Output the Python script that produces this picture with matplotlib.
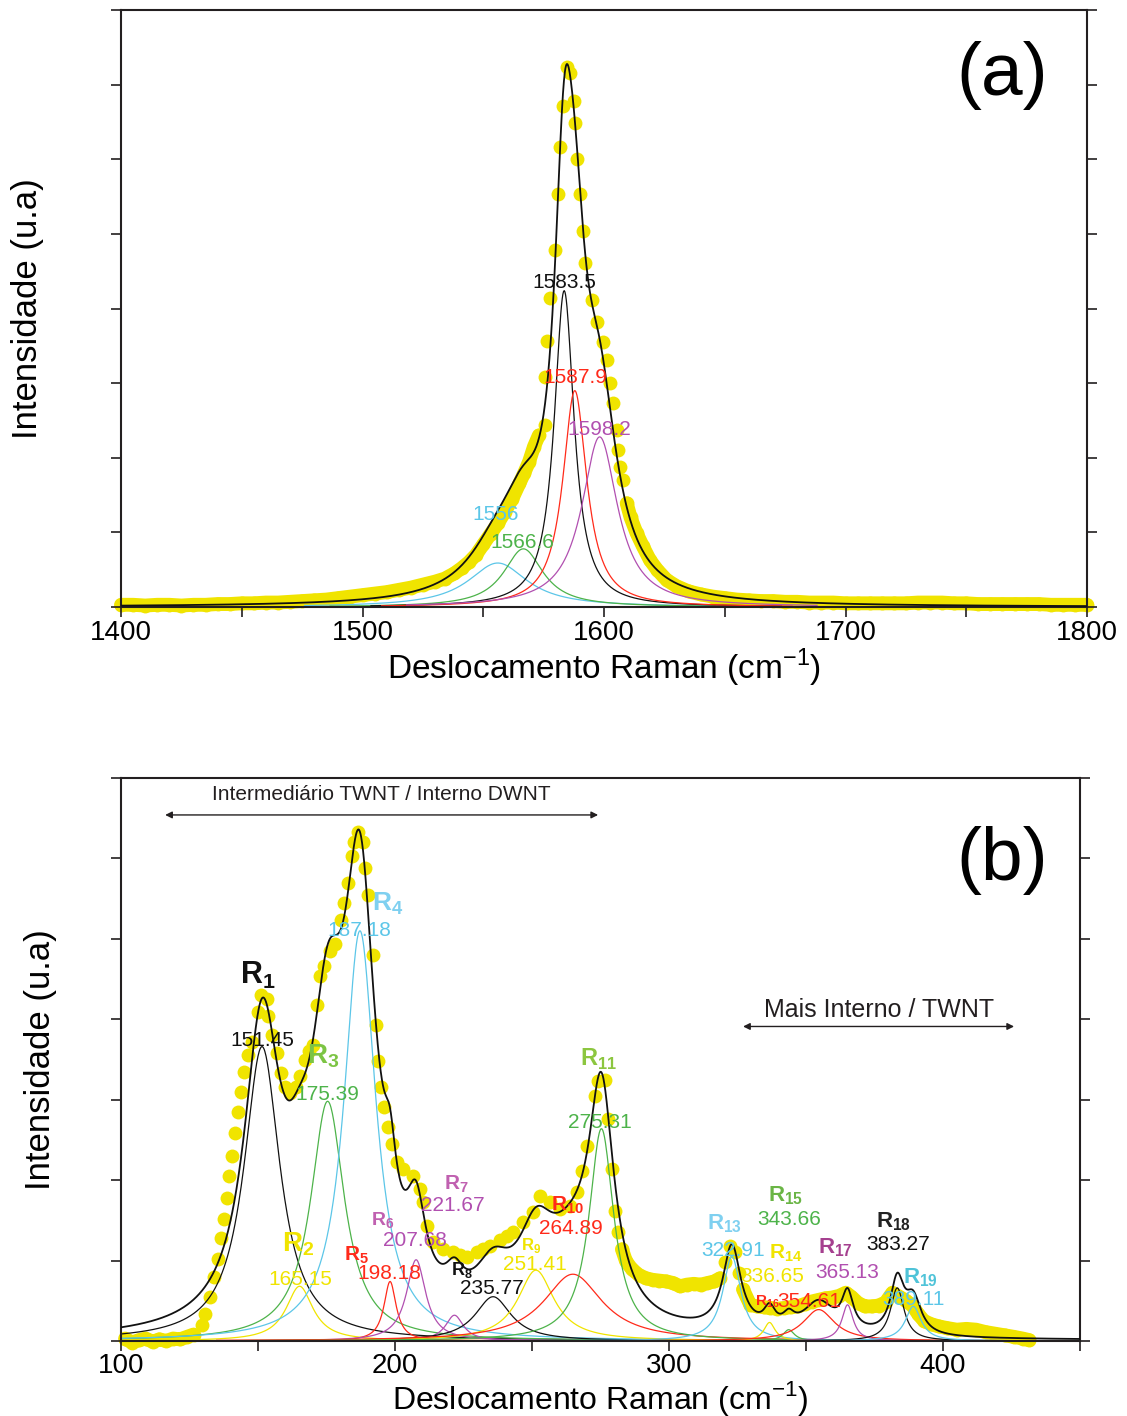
import matplotlib
matplotlib.use('Agg')
import matplotlib.pyplot as plt
import numpy as np

plt.rcParams['font.family'] = ['Liberation Sans', 'DejaVu Sans']
plt.rcParams['mathtext.fontset'] = 'custom'
plt.rcParams['mathtext.rm'] = 'Liberation Sans'
plt.rcParams['mathtext.bf'] = 'Liberation Sans:bold'

YELLOW = '#f0e400'
CYAN = '#5cc6e8'
GREEN = '#4db34a'
RED = '#ff2a1a'
PURPLE = '#b14fb0'
BLACK = '#111111'

# ---------------- (a) G band ----------------
g_centers = [1556.0, 1566.6, 1583.5, 1587.9, 1598.2]
g_heights = [0.59, 0.78, 4.24, 2.90, 2.28]
g_fwhm = [30, 20, 10, 12, 18]
g_colors = [CYAN, GREEN, BLACK, RED, PURPLE]
g_labels = ['1556', '1566.6', '1583.5', '1587.9', '1598.2']
g_label_x = [1555.3, 1566.0, 1583.4, 1588.0, 1597.9]
g_label_y = [1.24, 0.87, 4.35, 3.08, 2.38]

g_exp_x = [1400, 1405, 1410, 1415, 1420, 1425, 1430, 1435, 1440, 1445,
           1450, 1455, 1460, 1465, 1470,
           1475, 1480, 1485, 1490, 1495, 1500, 1505, 1510, 1515, 1520, 1525, 1530,
           1534, 1538, 1541, 1544, 1547, 1550, 1553, 1556, 1559, 1562, 1565, 1567, 1569, 1571, 1573,
           1575.6, 1575.6, 1576.3, 1577.6, 1579.8, 1581.0, 1581.8, 1582.9, 1584.8, 1585.9,
           1587.6, 1588.0, 1588.9, 1590.1, 1591.2, 1592.1, 1594.9, 1597.0, 1599.7, 1601.1,
           1602.5, 1603.9, 1605.3, 1605.9, 1606.6, 1607.7, 1609.4, 1611, 1613.5, 1616,
           1619, 1622, 1626, 1630, 1635, 1640,
           1645, 1650, 1655, 1660, 1665, 1670, 1675, 1680, 1685, 1690, 1695, 1700,
           1705, 1710, 1715, 1720, 1725, 1730, 1735, 1740, 1745, 1750, 1755, 1760,
           1765, 1770, 1775, 1780, 1785, 1790, 1795, 1800]
g_exp_y = [0.03, 0.03, 0.02, 0.03, 0.03, 0.02, 0.03, 0.03, 0.04, 0.04,
           0.05, 0.05, 0.06, 0.06, 0.07,
           0.08, 0.09, 0.10, 0.12, 0.14, 0.16, 0.18, 0.20, 0.23, 0.26, 0.30, 0.34,
           0.38, 0.45, 0.52, 0.60, 0.70, 0.84, 0.98, 1.12, 1.28, 1.45, 1.66, 1.80, 1.95, 2.15, 2.30,
           2.44, 3.08, 3.57, 4.14, 4.79, 5.53, 6.17, 6.72, 7.24, 7.15,
           6.78, 6.48, 6.01, 5.54, 5.04, 4.61, 4.11, 3.82, 3.55, 3.31,
           3.00, 2.73, 2.37, 2.10, 1.88, 1.70, 1.39, 1.20, 0.99, 0.82,
           0.63, 0.50, 0.36, 0.28, 0.21, 0.17,
           0.14, 0.12, 0.10, 0.09, 0.08, 0.08, 0.07, 0.07, 0.06, 0.06, 0.06, 0.05,
           0.05, 0.05, 0.05, 0.05, 0.05, 0.06, 0.06, 0.06, 0.05, 0.05, 0.04, 0.04,
           0.04, 0.04, 0.04, 0.04, 0.03, 0.03, 0.03, 0.03]
# spectral stretches where the measured points merge into a continuous band
g_band_ranges = [(1400, 1573), (1609, 1800)]

# ---------------- (b) RBM ----------------
r_names = ['1', '2', '3', '4', '5', '6', '7', '8', '9', '10', '11',
           '13', '14', '15', '16', '17', '18', '19']
r_centers = [151.45, 165.15, 175.39, 187.18, 198.18, 207.68, 221.67, 235.77, 251.41,
             264.89, 275.31, 322.91, 336.65, 343.66, 354.61, 365.13, 383.27, 389.11]
r_heights = [3.66, 0.68, 2.98, 5.10, 0.74, 1.01, 0.32, 0.55, 0.88,
             0.83, 2.64, 1.05, 0.23, 0.14, 0.39, 0.45, 0.66, 0.43]
r_fwhm = [16, 12, 15, 14, 5.4, 8.5, 8, 16, 16,
          26, 11, 8, 5, 5, 14, 5, 6, 7]
r_colors = [BLACK, YELLOW, GREEN, CYAN, RED, PURPLE, PURPLE, BLACK, YELLOW,
            RED, GREEN, CYAN, YELLOW, GREEN, RED, PURPLE, BLACK, CYAN]
r_tag_colors = [BLACK, YELLOW, '#7cc444', '#7fd0f0', RED, '#c060b0', '#c060b0', BLACK, YELLOW,
                RED, '#8cc63f', '#7fd0f0', YELLOW, '#6ab545', RED, '#a5408f', '#222222', '#4fc3d8']
r_tag_size = [22, 20, 20, 19, 15, 14, 15, 13, 12, 15, 17, 16, 15, 16, 11, 16, 16, 16]
r_tag_x = [150.0, 164.6, 173.7, 197.4, 186.1, 195.6, 222.3, 224.5, 249.6,
           263.1, 274.1, 320.1, 342.7, 342.7, 335.8, 360.6, 381.8, 391.6]
r_tag_y = [4.54, 1.20, 3.54, 5.43, 1.06, 1.49, 1.95, 0.88, 1.19,
           1.69, 3.50, 1.46, 1.09, 1.80, 0.49, 1.16, 1.48, 0.79]
r_num_x = [151.5, 165.3, 175.2, 186.9, 197.8, 207.3, 221.2, 235.4, 251.1,
           264.2, 274.8, 323.4, 337.6, 343.8, 351.0, 365.0, 383.6, 389.1]
r_num_y = [3.74, 0.76, 3.06, 5.10, 0.84, 1.25, 1.69, 0.65, 0.95,
           1.40, 2.71, 1.13, 0.80, 1.51, 0.49, 0.85, 1.20, 0.51]

r_exp_x = [101.5, 104.0, 106.5, 109.0, 111.5, 114.0, 116.5, 119.0, 121.5, 124.0, 126.5,
           129.5, 130.7, 132.5, 134.0, 135.3, 136.6, 137.6, 138.6, 139.5, 140.6, 141.6,
           142.6, 143.8, 145.0, 146.3, 147.7, 149.9, 151.1, 153.2, 153.5, 155.2, 156.8,
           158.4, 159.9, 161.7, 163.9, 165.3, 167.2, 168.6, 170.2, 171.4, 172.6, 174.2,
           176.3, 178.1, 180.3, 181.5, 183.0, 184.4, 185.1, 186.4, 188.4, 189.1, 190.3,
           191.9, 193.1, 193.9, 194.9, 196.0, 197.4, 198.9, 200.6, 202.9, 206.6, 209.1,
           210.2, 211.6, 213.9, 217.5, 221.2, 223.7, 226.2, 229.8, 232.2, 234.7, 238.3,
           240.7, 243.1, 246.7, 250.4, 252.9, 256.6, 260.2, 263.9, 266.3, 268.1, 270.0,
           273.0, 274.2, 276.6, 277.8, 279.1, 280.3, 281.4, 282.8, 284.3, 286.5, 289.0,
           291.5, 294.0, 296.5, 299.0, 301.5, 304.0, 306.5, 309.0, 311.5, 314.0, 316.5,
           318.6, 320.5, 322.3, 324.1, 325.5, 327.0, 329.6, 332.0, 334.5, 337.0, 339.5,
           342.0, 344.5, 347.0, 349.5, 352.0, 354.5, 357.0, 359.5, 362.0, 364.5, 366.5,
           369.0, 371.5, 374.0, 376.5, 379.0, 381.5, 384.0, 386.5, 389.0, 391.0, 393.0,
           395.5, 398.5, 401.5, 405.0, 408.5, 412.0, 415.5, 419.0, 422.5, 426.0, 429.0, 431.5]
r_exp_y = [0.03, -0.02, 0.01, 0.03, -0.01, 0.02, 0.00, 0.03, 0.02, 0.05, 0.08,
           0.20, 0.33, 0.55, 0.80, 1.02, 1.28, 1.52, 1.78, 2.05, 2.30, 2.58,
           2.85, 3.10, 3.35, 3.55, 3.72, 4.09, 4.30, 4.25, 4.04, 3.80, 3.58,
           3.33, 3.16, 3.08, 3.16, 3.29, 3.49, 3.61, 3.68, 4.18, 4.54, 4.66,
           4.85, 4.93, 5.23, 5.44, 5.69, 6.03, 6.20, 6.33, 6.20, 5.88, 5.54,
           4.80, 3.93, 3.48, 3.16, 2.91, 2.66, 2.45, 2.23, 2.14, 2.05, 1.89,
           1.73, 1.43, 1.23, 1.14, 1.10, 1.07, 1.05, 1.10, 1.14, 1.18, 1.26,
           1.30, 1.35, 1.48, 1.60, 1.80, 1.73, 1.64, 1.68, 1.85, 2.11, 2.43,
           3.05, 3.23, 3.24, 2.76, 2.14, 1.61, 1.36, 1.14, 0.99, 0.89, 0.82,
           0.78, 0.76, 0.75, 0.74, 0.72, 0.68, 0.70, 0.71, 0.70, 0.72, 0.74,
           0.78, 0.98, 1.18, 1.10, 0.85, 0.64, 0.45, 0.43, 0.42, 0.41, 0.40,
           0.41, 0.42, 0.43, 0.46, 0.49, 0.51, 0.53, 0.54, 0.56, 0.60, 0.55,
           0.47, 0.43, 0.43, 0.44, 0.48, 0.60, 0.55, 0.50, 0.43, 0.33, 0.25,
           0.21, 0.18, 0.16, 0.14, 0.15, 0.14, 0.11, 0.09, 0.07, 0.05, 0.03, 0.01]
r_band_ranges = [(100, 128), (282, 320), (326, 432)]


def lorentz(x, c, h, w):
    return h / (1.0 + (2.0 * (x - c) / w) ** 2)


def draw_exp(ax, xs, ys, bands):
    xs = np.asarray(xs)
    ys = np.asarray(ys)
    for lo, hi in bands:
        m = (xs >= lo) & (xs <= hi)
        ax.plot(xs[m], ys[m], color=YELLOW, lw=10, solid_capstyle='round',
                solid_joinstyle='round', zorder=1, clip_on=False)
    ax.plot(xs, ys, 'o', color=YELLOW, ms=10, mec='none', zorder=1, clip_on=False)


fig = plt.figure(figsize=(11.27, 14.16), dpi=100)
ax1 = fig.add_axes([0.1074, 0.5713, 0.8571, 0.4216])
ax2 = fig.add_axes([0.1074, 0.0530, 0.8510, 0.3976])

# ---- panel (a)
draw_exp(ax1, g_exp_x, g_exp_y, g_band_ranges)
xa = np.linspace(1400, 1800, 2001)
total_a = np.zeros_like(xa)
for c, h, w, col in zip(g_centers, g_heights, g_fwhm, g_colors):
    total_a += lorentz(xa, c, h, w)
    xs = np.linspace(c - 80, c + 90, 600)
    ax1.plot(xs, lorentz(xs, c, h, w), color=col, lw=0.9, zorder=2)
ax1.plot(xa, total_a, color=BLACK, lw=1.3, zorder=3)
for t, x, y, col in zip(g_labels, g_label_x, g_label_y, g_colors):
    ax1.text(x, y, t, color=col, fontsize=15, ha='center', va='center', zorder=4)

ax1.set_xlim(1400, 1800)
ax1.set_ylim(0, 8)
ax1.set_xticks([1400, 1500, 1600, 1700, 1800])
ax1.set_xticks([1450, 1550, 1650, 1750], minor=True)
ax1.text(0.912, 0.891, '(a)', transform=ax1.transAxes, fontsize=54, ha='center', va='center')

# ---- panel (b)
draw_exp(ax2, r_exp_x, r_exp_y, r_band_ranges)
xb = np.linspace(100, 450, 3001)
total_b = np.zeros_like(xb)
for c, h, w, col in zip(r_centers, r_heights, r_fwhm, r_colors):
    total_b += lorentz(xb, c, h, w)
    xs = np.linspace(max(100, c - 130), min(440, c + 130), 800)
    ax2.plot(xs, lorentz(xs, c, h, w), color=col, lw=0.9, zorder=2)
ax2.plot(xb, total_b, color=BLACK, lw=1.3, zorder=3)

for i in range(len(r_names)):
    ax2.text(r_tag_x[i], r_tag_y[i], r'$\mathbf{R}_{\mathbf{%s}}$' % r_names[i],
             color=r_tag_colors[i], fontsize=r_tag_size[i], ha='center', va='center', zorder=4)
    ax2.text(r_num_x[i], r_num_y[i], '%.2f' % r_centers[i], color=r_colors[i],
             fontsize=15, ha='center', va='center', zorder=4)

ax2.annotate('', xy=(116.1, 6.54), xytext=(274.1, 6.54),
             arrowprops=dict(arrowstyle='<|-|>', color='#231f20', lw=1.0,
                             mutation_scale=10, shrinkA=0, shrinkB=0))
ax2.text(195, 6.80, 'Intermediário TWNT / Interno DWNT', fontsize=15,
         ha='center', va='center', color='#231f20')
ax2.annotate('', xy=(327.0, 3.91), xytext=(425.9, 3.91),
             arrowprops=dict(arrowstyle='<|-|>', color='#231f20', lw=1.0,
                             mutation_scale=10, shrinkA=0, shrinkB=0))
ax2.text(376.5, 4.11, 'Mais Interno / TWNT', fontsize=18,
         ha='center', va='center', color='#231f20')

ax2.set_xlim(100, 450)
ax2.set_ylim(0, 7)
ax2.set_xticks([100, 200, 300, 400])
ax2.set_xticks([150, 250, 350, 450], minor=True)
ax2.text(0.919, 0.854, '(b)', transform=ax2.transAxes, fontsize=54, ha='center', va='center')

for ax, ytop, ylx, xly, xfs in [(ax1, 8, -0.097, -0.102, 24), (ax2, 7, -0.084, -0.102, 23)]:
    ax.set_yticks(range(0, ytop + 1))
    ax.set_yticklabels([])
    ax.tick_params(axis='y', which='both', left=True, right=True, direction='out',
                   length=7, width=1.2, color='#231f20')
    ax.tick_params(axis='x', which='both', direction='out', length=7, width=1.2,
                   labelsize=20, pad=2, color='#231f20')
    for s in ax.spines.values():
        s.set_linewidth(1.5)
        s.set_color('#231f20')
    ax.set_xlabel('Deslocamento Raman (cm$^{-1}$)', fontsize=xfs)
    ax.xaxis.label.set_va('center')
    ax.xaxis.set_label_coords(0.5, xly)
    ax.set_ylabel('Intensidade (u.a)', fontsize=25)
    ax.yaxis.label.set_va('center')
    ax.yaxis.set_label_coords(ylx, 0.5)

fig.savefig('out.png', dpi=100)
